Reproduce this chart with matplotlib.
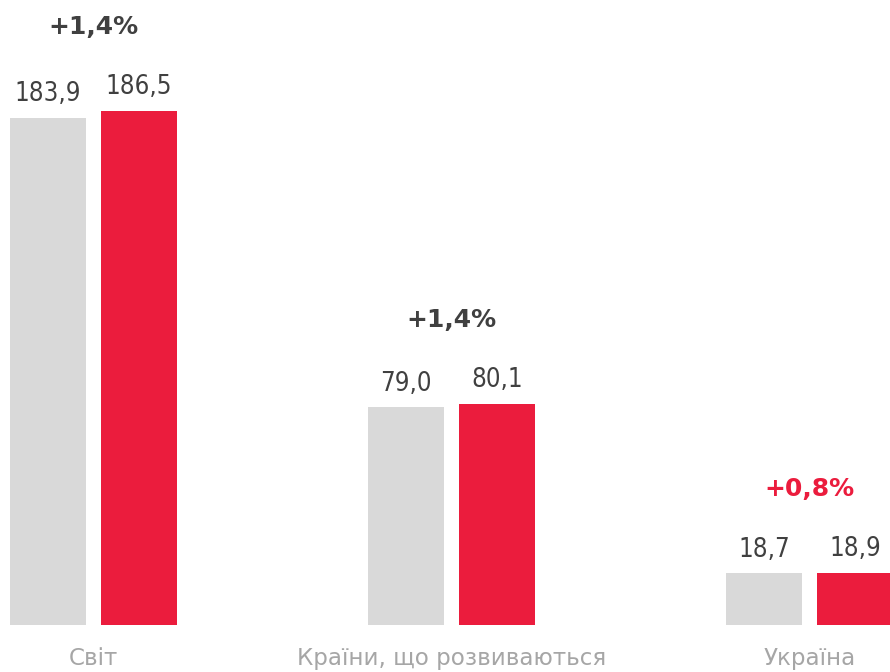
import numpy as np
import matplotlib; matplotlib.use('agg')
import matplotlib.pyplot as plt

plt.rcParams['font.family'] = ['DejaVu Sans']

categories = ["Світ", "Країни, що розвиваються", "Україна"]
prev_vals = [183.9, 79.0, 18.7]
curr_vals = [186.5, 80.1, 18.9]
growth = ["+1,4%", "+1,4%", "+0,8%"]
growth_colors = ["#404040", "#404040", "#eb1c3d"]

grey = "#d9d9d9"
red = "#eb1c3d"
txt = "#404040"

fig = plt.figure(figsize=(8.9, 6.72), dpi=100)
ax = fig.add_axes([0, 47/672, 1, 625/672])

x = np.arange(len(categories))
w = 76/358
off = 45.5/358

ax.bar(x - off, prev_vals, w, color=grey)
ax.bar(x + off, curr_vals, w, color=red)

def fmt(v):
    return f"{v:.1f}".replace(".", ",")

for i in range(len(x)):
    for xp, v in [(x[i] - off, prev_vals[i]), (x[i] + off, curr_vals[i])]:
        ax.annotate(fmt(v), (xp, v), xytext=(0, 12), textcoords='offset points',
                    ha='center', va='baseline', fontsize=18.5, color=txt,
                    fontstretch='condensed')
    top = max(prev_vals[i], curr_vals[i])
    ax.annotate(growth[i], (x[i], top), xytext=(0, 55.5), textcoords='offset points',
                ha='center', va='baseline', fontsize=18, fontweight='bold',
                color=growth_colors[i])

ax.set_xlim(-93.5/358, (890 - 93.5)/358)
ax.set_ylim(0, 625/2.757)
ax.set_xticks(x)
ax.set_xticklabels(categories, fontsize=16.6, color="#a6a6a6")
ax.tick_params(axis='x', length=0, pad=15.5)
ax.set_yticks([])
for s in ax.spines.values():
    s.set_visible(False)

fig.savefig("out.png", dpi=100)
